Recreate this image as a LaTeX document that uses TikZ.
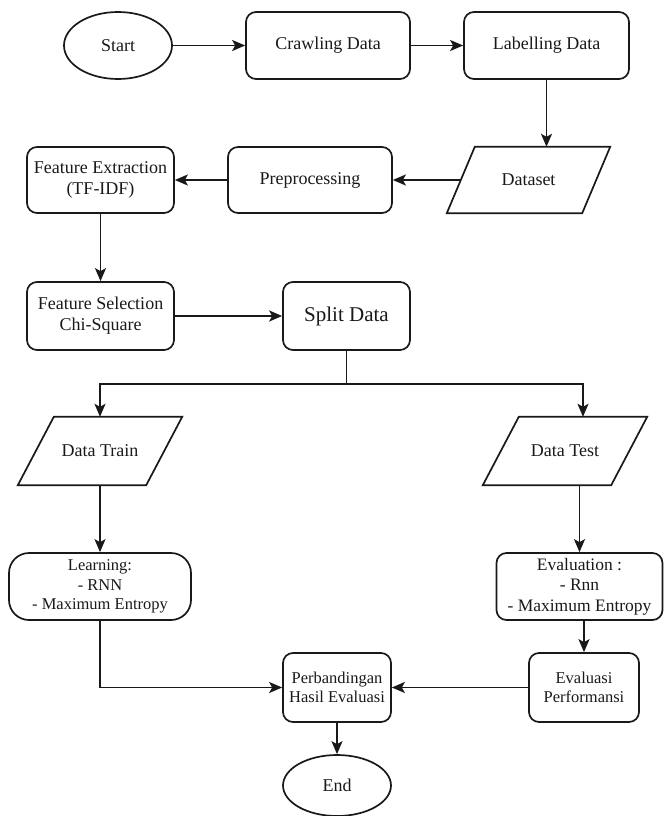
\documentclass[tikz,border=0pt]{standalone}
\usepackage{fontspec}
\setmainfont{Liberation Serif}
\newfontfamily\tnr{Liberation Serif}
\usetikzlibrary{shapes.geometric,arrows.meta}
\definecolor{ink}{RGB}{25,25,25}
\begin{document}
\begin{tikzpicture}[x=1pt,y=1pt,
  line/.style={line width=1.7pt, draw=ink},
  arr/.style={line, -{Stealth[length=13pt,width=11pt,inset=3pt]}},
  box/.style={draw=ink, line width=1.7pt, rounded corners=10pt, align=center, inner sep=0pt, text=ink, font=\tnr\fontsize{18}{21}\selectfont},
  term/.style={ellipse, draw=ink, line width=1.7pt, inner sep=0pt, text=ink, font=\tnr\fontsize{18}{21}\selectfont},
  io/.style={draw=none, align=center, inner sep=0pt, text=ink, font=\tnr\fontsize{18}{21}\selectfont},
]
\useasboundingbox (0,0) rectangle (664,-816);

% row 1
\node[term, minimum width=108pt, minimum height=67pt] (start) at (118,-45.5) {Start};
\node[box, minimum width=164pt, minimum height=67pt] (crawl) at (328,-45.5) {Crawling Data};
\node[box, minimum width=165pt, minimum height=67pt] (label) at (546.5,-45.5) {Labelling Data};

% row 2
\node[io, minimum width=135pt, minimum height=66pt] (dataset) at (528.5,-180) {Dataset};
\draw[line] ([xshift=14pt]dataset.north west) -- ([xshift=14pt]dataset.north east)
  -- ([xshift=-14pt]dataset.south east) -- ([xshift=-14pt]dataset.south west) -- cycle;
\node[box, minimum width=164pt, minimum height=66pt] (prep) at (310,-180) {Preprocessing};
\node[box, minimum width=147pt, minimum height=66pt] (fe) at (100.5,-180) {Feature Extraction\\(TF-IDF)};

% row 3
\node[box, minimum width=147pt, minimum height=68pt] (fs) at (100.5,-316) {Feature Selection\\Chi-Square};
\node[box, minimum width=127pt, minimum height=68pt, font=\tnr\fontsize{21}{24}\selectfont] (split) at (346.5,-316) {Split Data};

% row 4
\node[io, minimum width=128pt, minimum height=68pt] (train) at (100,-451) {Data Train};
\draw[line] ([xshift=18pt]train.north west) -- ([xshift=18pt]train.north east)
  -- ([xshift=-18pt]train.south east) -- ([xshift=-18pt]train.south west) -- cycle;
\node[io, minimum width=128pt, minimum height=68pt] (test) at (565,-451) {Data Test};
\draw[line] ([xshift=18pt]test.north west) -- ([xshift=18pt]test.north east)
  -- ([xshift=-18pt]test.south east) -- ([xshift=-18pt]test.south west) -- cycle;

% row 5
\node[box, rounded corners=20pt, minimum width=182pt, minimum height=67pt, font=\tnr\fontsize{16.5}{19.5}\selectfont] (learn) at (100,-586.5) {Learning:\\- RNN\\- Maximum Entropy};
\node[box, minimum width=166pt, minimum height=67pt, font=\tnr\fontsize{17.5}{20.5}\selectfont] (eval) at (579.5,-586.5) {Evaluation :\\- Rnn\\- Maximum Entropy};

% row 6
\node[box, minimum width=108pt, minimum height=69pt, font=\tnr\fontsize{16.5}{19}\selectfont] (perb) at (337,-687.5) {Perbandingan\\Hasil Evaluasi};
\node[box, minimum width=110pt, minimum height=69pt, font=\tnr\fontsize{16.5}{19}\selectfont] (ep) at (584,-687.5) {Evaluasi\\Performansi};

% end
\node[term, minimum width=108pt, minimum height=61pt] (end) at (337,-785.5) {End};

% connectors
\draw[arr] (start) -- (crawl);
\draw[arr] (crawl) -- (label);
\draw[arr] (label.south) -- (label.south |- dataset.north);
\draw[arr] (dataset.west) -- (prep.east);
\draw[arr] (prep) -- (fe);
\draw[arr] (fe) -- (fs);
\draw[arr] (fs) -- (split);
\coordinate (sj) at ([yshift=-33pt]split.south);
\draw[line] (split.south) -- (sj);
\draw[arr] (sj) -| (train.north);
\draw[arr] (sj) -| ([xshift=18pt]test.north);
\draw[arr] (train.south) -- (learn.north);
\draw[arr] (test.south -| eval.north) -- (eval.north);
\draw[arr] (eval.south -| ep.north) -- (ep.north);
\draw[arr] (learn.south) |- (perb.west);
\draw[arr] (ep) -- (perb);
\draw[arr] (perb) -- (end);
\end{tikzpicture}
\end{document}
